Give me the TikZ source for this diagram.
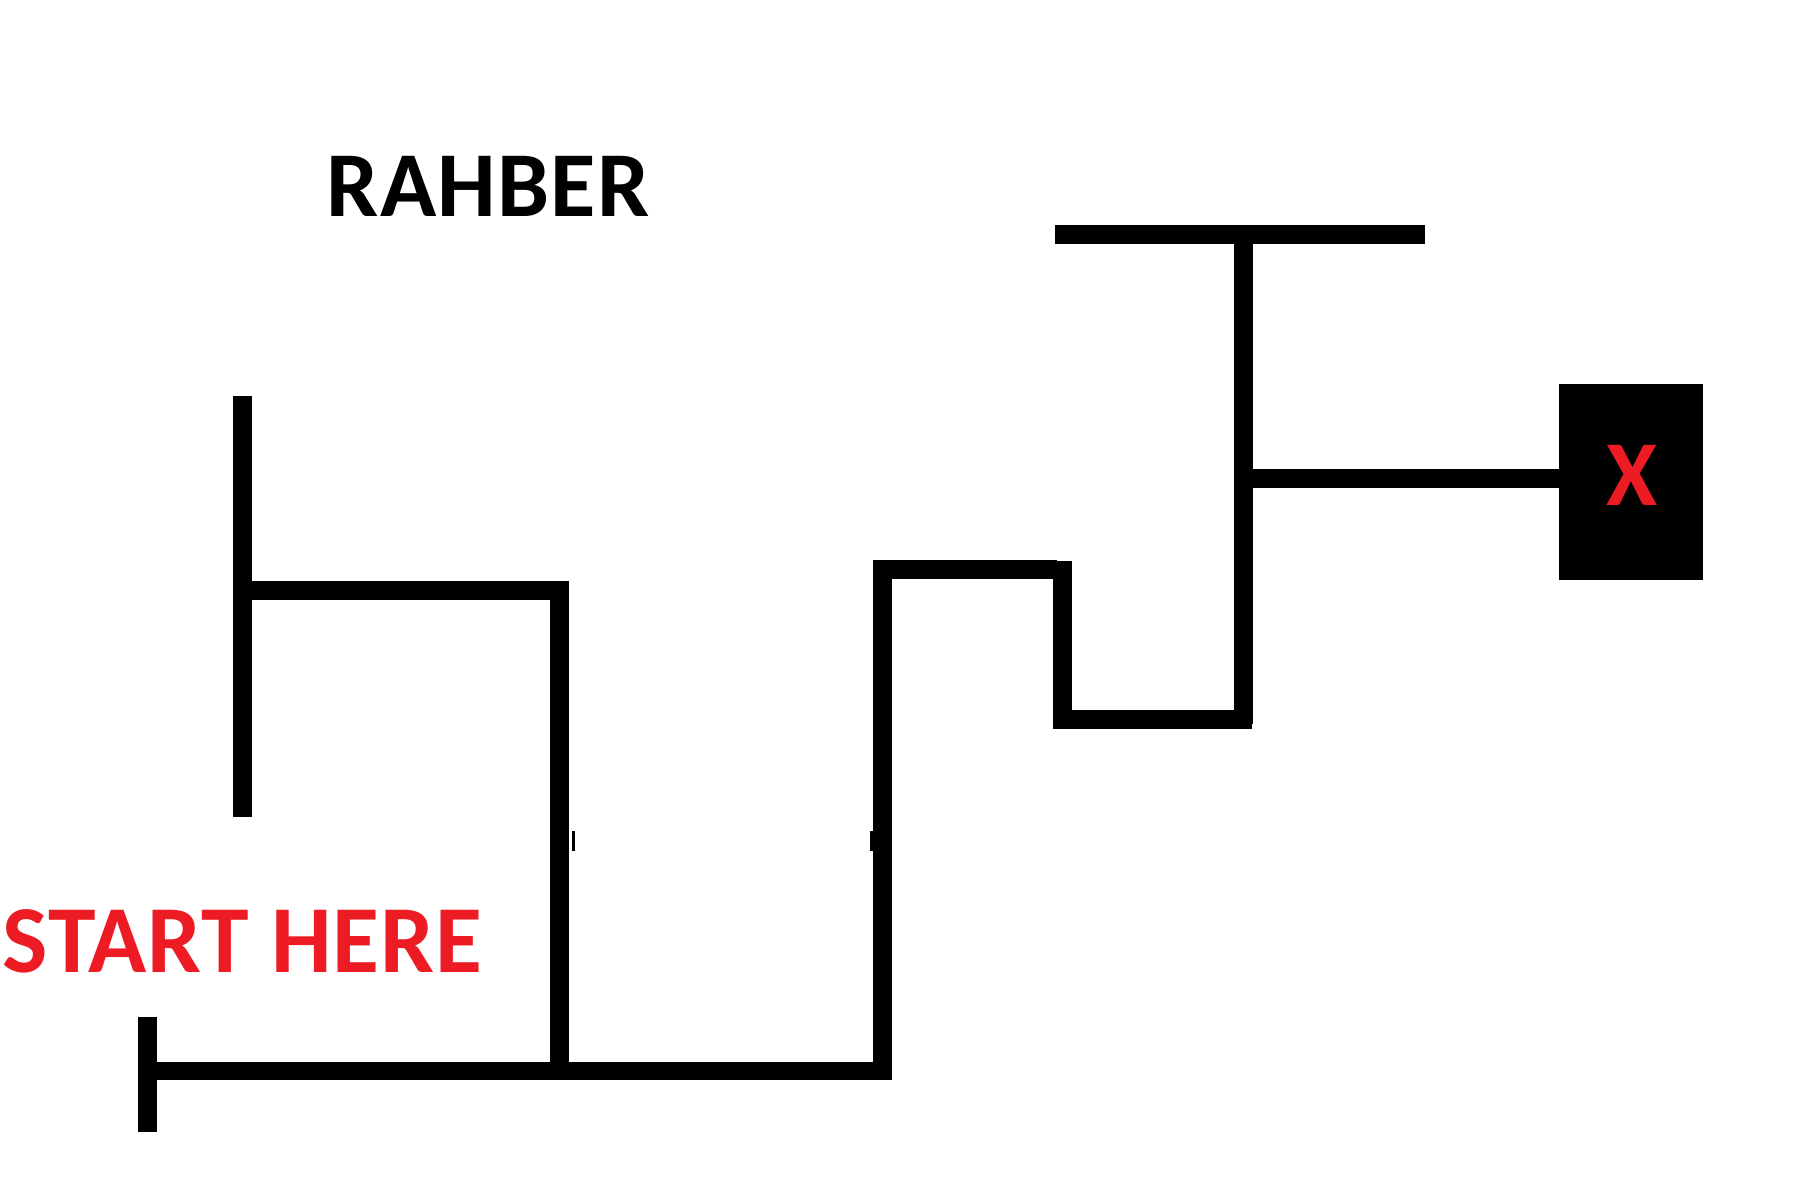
\documentclass[tikz,border=0pt]{standalone}
\usepackage{fontspec}
\setmainfont{Carlito}
\newfontfamily\titlefont[LetterSpace=1.3]{Carlito}
\newfontfamily\startfont[LetterSpace=0.8]{Carlito}
\definecolor{mazered}{RGB}{237,28,36}
\tikzset{
  wall/.style={fill=black},
  lbl/.style={inner sep=0pt, anchor=base west, font=\bfseries\fontsize{26.4pt}{30pt}\selectfont},
}
\begin{document}
\begin{tikzpicture}[x=0.01cm,y=-0.01cm]
\useasboundingbox (0,0) rectangle (1800,1200);
% start marker
\fill[wall] (138,1017) rectangle (157,1132);
% bottom corridor
\fill[wall] (141,1062) rectangle (892,1080);
\fill[wall] (550,582) rectangle (569,1080);
\fill[wall] (572,831) rectangle (575,851);
\fill[wall] (873,561) rectangle (892,1080);
\fill[wall] (870,831) rectangle (873,851);
% left H
\fill[wall] (233,581) rectangle (569,600);
\fill[wall] (233,396) rectangle (252,817);
% middle U
\fill[wall] (873,560) rectangle (1057,579);
\fill[wall] (1053,561) rectangle (1072,729);
\fill[wall] (1053,710) rectangle (1252,729);
% right T
\fill[wall] (1234,225) rectangle (1253,724);
\fill[wall] (1055,225) rectangle (1425,244);
\fill[wall] (1253,469) rectangle (1560,488);
% goal box
\fill[wall] (1559,384) rectangle (1703,580);
\node[lbl, anchor=base, text=mazered] (goal) at (1632,505) {X};
% labels
\node[lbl, font=\titlefont\bfseries\fontsize{26.4pt}{30pt}\selectfont] (title) at (326,216.7) {RAHBER};
\node[lbl, text=mazered, font=\startfont\bfseries\fontsize{27.3pt}{31pt}\selectfont] (start) at (2,972.7) {START HERE};
\end{tikzpicture}
\end{document}
